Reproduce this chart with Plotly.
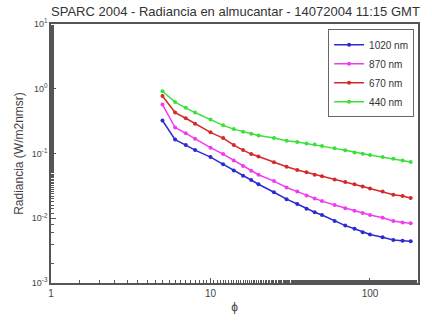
import numpy as np
import plotly.graph_objects as go

angles = [5, 6, 7, 8, 10, 12, 14, 16, 18, 20, 25, 30, 35, 40, 45, 50, 60, 70, 80, 90, 100, 120, 140, 160, 180]

rad_1020 = [0.323, 0.164, 0.135, 0.113, 0.088, 0.068, 0.0546, 0.0455, 0.0388, 0.0335, 0.0252, 0.0197, 0.0166,
            0.0140, 0.0124, 0.0112, 0.0091, 0.0077, 0.0069, 0.0061, 0.0056, 0.0051, 0.0046, 0.0045, 0.0044]
rad_870 = [0.569, 0.252, 0.205, 0.169, 0.123, 0.098, 0.078, 0.064, 0.054, 0.047, 0.0375, 0.0299, 0.0258,
           0.0225, 0.0201, 0.0184, 0.0160, 0.0143, 0.0131, 0.0121, 0.0112, 0.0102, 0.0091, 0.0086, 0.0084]
rad_670 = [0.773, 0.429, 0.350, 0.288, 0.212, 0.173, 0.135, 0.113, 0.098, 0.090, 0.073, 0.0625, 0.0558,
           0.0515, 0.0471, 0.0445, 0.0397, 0.0363, 0.0335, 0.0310, 0.0289, 0.0258, 0.0231, 0.0220, 0.0206]
rad_440 = [0.916, 0.623, 0.508, 0.429, 0.334, 0.272, 0.238, 0.217, 0.201, 0.190, 0.173, 0.158, 0.151,
           0.143, 0.138, 0.1305, 0.120, 0.112, 0.104, 0.099, 0.095, 0.088, 0.083, 0.078, 0.074]

series_names = ["1020 nm", "870 nm", "670 nm", "440 nm"]
series_vals = [rad_1020, rad_870, rad_670, rad_440]
colors = ["#2b2bd0", "#f03cf0", "#d42a2a", "#3be03b"]

y_tickvals = [1e-3, 1e-2, 1e-1, 1, 10]
y_ticktext = ["10<sup>-3</sup>", "10<sup>-2</sup>", "10<sup>-1</sup>", "10<sup>0</sup>", "10<sup>1</sup>"]
x_tickvals = [1, 10, 100]
x_ticktext = ["1", "10", "100"]

fig = go.Figure()
for name, vals, c in zip(series_names, series_vals, colors):
    fig.add_trace(go.Scatter(x=angles, y=vals, name=name, mode="lines+markers",
                             line=dict(color=c, width=1.5),
                             marker=dict(color=c, size=4)))

axis_col = "#555555"
fig.update_layout(
    width=432, height=324,
    margin=dict(l=51, r=13, t=24, b=29),
    paper_bgcolor="white", plot_bgcolor="white",
    font=dict(family="Liberation Sans, Arial, sans-serif", color="#333333"),
    title=dict(text="SPARC 2004 - Radiancia en almucantar - 14072004 11:15 GMT",
               x=0.545, xanchor="center", y=0.965, yanchor="middle",
               font=dict(size=13, color="#333333")),
    showlegend=True,
    legend=dict(x=0.755, y=0.98, xanchor="left", yanchor="top",
                bordercolor="#666666", borderwidth=1, bgcolor="white",
                font=dict(size=10, color="#333333"),
                tracegroupgap=0, itemwidth=30),
)
fig.update_xaxes(type="log", range=[0, np.log10(200)],
                 tickvals=x_tickvals, ticktext=x_ticktext,
                 ticks="inside", ticklen=5, tickcolor=axis_col, tickwidth=1,
                 showline=True, linecolor=axis_col, linewidth=1.5, mirror=True,
                 showgrid=False, zeroline=False,
                 tickfont=dict(size=10, color="#444444"),
                 title=dict(text="ϕ", font=dict(size=12, color="#444444"), standoff=5),
                 minor=dict(ticks="inside", ticklen=3, tickcolor=axis_col, showgrid=False))
fig.update_yaxes(type="log", range=[-3, 1],
                 tickvals=y_tickvals, ticktext=y_ticktext,
                 ticks="inside", ticklen=5, tickcolor=axis_col, tickwidth=1,
                 showline=True, linecolor=axis_col, linewidth=1.5, mirror=True,
                 showgrid=False, zeroline=False,
                 tickfont=dict(size=9, color="#444444"),
                 title=dict(text="Radiancia (W/m2nmsr)", font=dict(size=12, color="#444444"), standoff=6),
                 minor=dict(ticks="inside", ticklen=3, tickcolor=axis_col, showgrid=False))

fig.write_html("out.html")
